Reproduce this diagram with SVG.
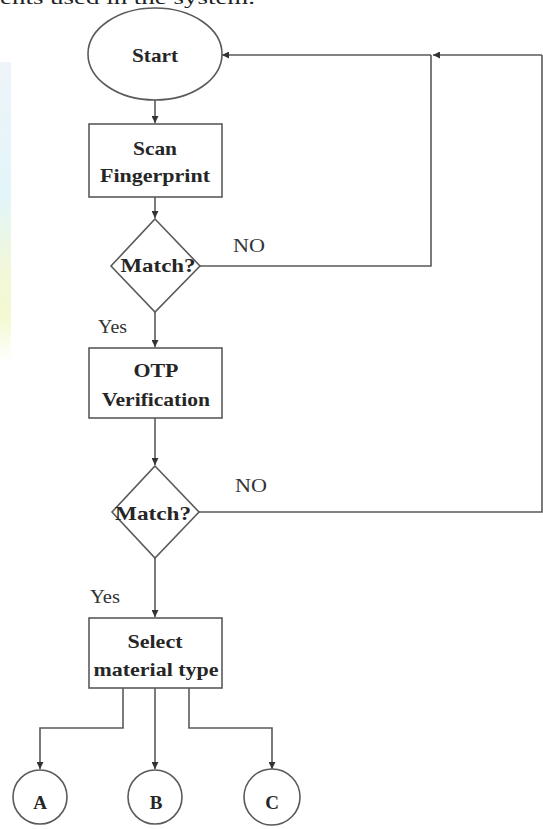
<svg xmlns="http://www.w3.org/2000/svg" width="543" height="829" viewBox="0 0 543 829">
<style>
.shape{fill:#fff;stroke:#5a5a5a;stroke-width:1.6}
.conn{fill:none;stroke:#5a5a5a;stroke-width:1.6}
.lbl{font-family:"Liberation Serif",serif;font-weight:bold;font-size:19px;fill:#262626;text-anchor:middle}
.edge{font-family:"Liberation Serif",serif;font-size:19px;fill:#333}
</style>
<defs>
<marker id="ah" viewBox="0 0 10 10" refX="10" refY="5" markerWidth="7" markerHeight="7" markerUnits="userSpaceOnUse" orient="auto">
<path d="M0,0 L10,5 L0,10 z" fill="#333"/>
</marker>
<linearGradient id="bg" x1="0" y1="0" x2="0" y2="1">
<stop offset="0" stop-color="#eef4fa"/>
<stop offset="0.45" stop-color="#e2f5f8"/>
<stop offset="0.7" stop-color="#f2f7d8"/>
<stop offset="0.85" stop-color="#f4f9d2"/>
<stop offset="1" stop-color="#ffffff"/>
</linearGradient>
</defs>
<rect width="543" height="829" fill="#fff"/>
<rect x="0" y="62" width="11" height="300" fill="url(#bg)"/>
<text x="0" y="4" font-family="Liberation Serif,serif" font-size="19" fill="#222" textLength="255" lengthAdjust="spacingAndGlyphs">ents used in the system.</text>

<g id="connectors">
<line class="conn" x1="155" y1="100" x2="155" y2="123" marker-end="url(#ah)"/>
<line class="conn" x1="155" y1="197" x2="155" y2="218" marker-end="url(#ah)"/>
<polyline class="conn" points="200,266 431,266 431,55"/>
<line class="conn" x1="542" y1="55" x2="433" y2="55" marker-end="url(#ah)"/>
<line class="conn" x1="431" y1="55" x2="222" y2="55" marker-end="url(#ah)"/>
<line class="conn" x1="155" y1="312" x2="155" y2="347" marker-end="url(#ah)"/>
<line class="conn" x1="155" y1="418" x2="155" y2="465" marker-end="url(#ah)"/>
<polyline class="conn" points="199,512 542,512 542,55"/>
<line class="conn" x1="155" y1="558" x2="155" y2="617" marker-end="url(#ah)"/>
<polyline class="conn" points="123,688 123,728 40,728 40,769" marker-end="url(#ah)"/>
<line class="conn" x1="155" y1="688" x2="155" y2="769" marker-end="url(#ah)"/>
<polyline class="conn" points="189,688 189,728 272,728 272,769" marker-end="url(#ah)"/>
<text class="edge" x="233" y="252" textLength="32" lengthAdjust="spacingAndGlyphs">NO</text>
<text class="edge" x="98" y="333" textLength="29" lengthAdjust="spacingAndGlyphs">Yes</text>
<text class="edge" x="235" y="492" textLength="32" lengthAdjust="spacingAndGlyphs">NO</text>
<text class="edge" x="90" y="603" textLength="30" lengthAdjust="spacingAndGlyphs">Yes</text>
</g>

<g id="start">
<ellipse class="shape" cx="155" cy="54" rx="67" ry="46"/>
<text class="lbl" x="155" y="62" textLength="46" lengthAdjust="spacingAndGlyphs">Start</text>
</g>
<g id="scan">
<rect class="shape" x="89" y="124" width="133" height="73"/>
<text class="lbl" x="155" y="155" textLength="44" lengthAdjust="spacingAndGlyphs">Scan</text>
<text class="lbl" x="155" y="182" textLength="110" lengthAdjust="spacingAndGlyphs">Fingerprint</text>
</g>
<g id="match1">
<polygon class="shape" points="155,219 200,266 155,312 111,266"/>
<text class="lbl" x="158" y="272" textLength="75" lengthAdjust="spacingAndGlyphs">Match?</text>
</g>
<g id="otp">
<rect class="shape" x="89" y="348" width="133" height="70"/>
<text class="lbl" x="156" y="377" textLength="45" lengthAdjust="spacingAndGlyphs">OTP</text>
<text class="lbl" x="156" y="406" textLength="108" lengthAdjust="spacingAndGlyphs">Verification</text>
</g>
<g id="match2">
<polygon class="shape" points="155,466 199,512 155,558 112,512"/>
<text class="lbl" x="153" y="520" textLength="76" lengthAdjust="spacingAndGlyphs">Match?</text>
</g>
<g id="select">
<rect class="shape" x="89" y="618" width="133" height="70"/>
<text class="lbl" x="155" y="648" textLength="55" lengthAdjust="spacingAndGlyphs">Select</text>
<text class="lbl" x="156" y="676" textLength="125" lengthAdjust="spacingAndGlyphs">material type</text>
</g>
<g id="A">
<circle class="shape" cx="40" cy="797" r="27"/>
<text class="lbl" x="40" y="809">A</text>
</g>
<g id="B">
<circle class="shape" cx="155" cy="797" r="27"/>
<text class="lbl" x="156" y="809">B</text>
</g>
<g id="C">
<circle class="shape" cx="272" cy="797" r="28"/>
<text class="lbl" x="272" y="809">C</text>
</g>
</svg>
